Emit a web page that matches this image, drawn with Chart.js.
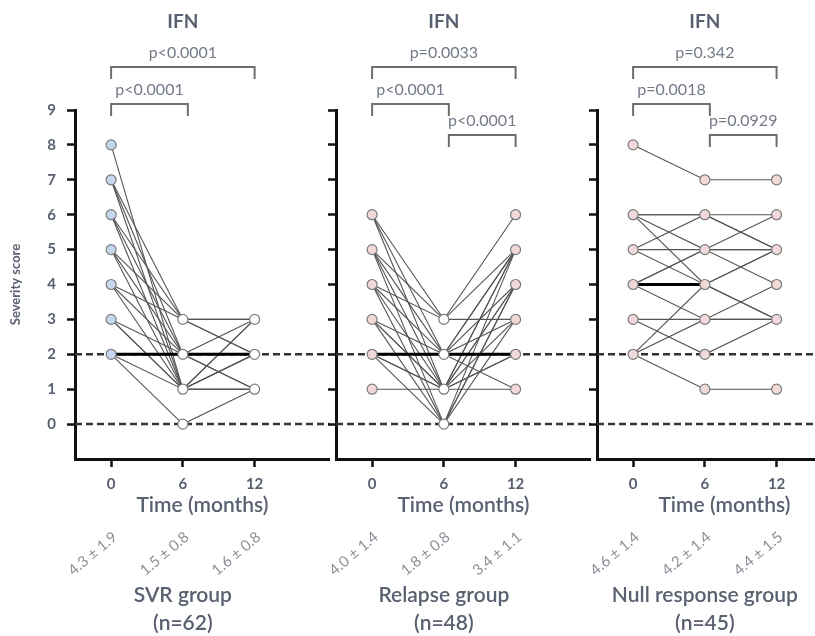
<!DOCTYPE html>
<html>
<head>
<meta charset="utf-8">
<script src="https://cdn.jsdelivr.net/npm/chart.js@4.4.0/dist/chart.umd.min.js"></script>
<style>
  html, body { margin: 0; padding: 0; background: #fff; }
  #wrap { position: relative; width: 815px; height: 636px; overflow: hidden; }
  canvas { position: absolute; top: 0; }
</style>
</head>
<body>
<div id="wrap">
  <canvas id="svr" width="336" height="636" style="left:0px"></canvas>
  <canvas id="relapse" width="273" height="636" style="left:324px"></canvas>
  <canvas id="nullresp" width="273" height="636" style="left:585px"></canvas>
</div>
<script>
/////////////////////////////////////////////////////////////
// DATA

const timePoints = [0, 6, 12];
const severityTicks = [0, 1, 2, 3, 4, 5, 6, 7, 8, 9];
const cutoffValues = [2, 0];

// one row per patient path: score at 0, 6, 12 months
const svrPatients = [
  [8, 1, 1], [7, 1, 2], [7, 2, 2], [7, 3, 3],
  [6, 3, 2], [6, 2, 1], [6, 1, 3],
  [5, 3, 3], [5, 2, 2], [5, 1, 1],
  [4, 3, 2], [4, 2, 3], [4, 1, 2],
  [3, 2, 2], [3, 1, 1], [3, 1, 2],
  [2, 2, 1], [2, 1, 3], [2, 0, 1],
];
const relapsePatients = [
  [6, 3, 6], [6, 2, 5], [6, 1, 4],
  [5, 3, 3], [5, 2, 4], [5, 1, 5], [5, 0, 5],
  [4, 3, 5], [4, 2, 3], [4, 1, 2], [4, 0, 4],
  [3, 2, 5], [3, 1, 3], [3, 0, 3], [3, 1, 4],
  [2, 2, 1], [2, 1, 5], [2, 0, 4], [2, 1, 2],
  [1, 1, 1],
];
const nullPatients = [
  [8, 7, 7],
  [6, 6, 6], [6, 5, 5], [6, 4, 3], [6, 6, 5],
  [5, 6, 5], [5, 5, 4], [5, 4, 5],
  [4, 5, 6], [4, 4, 5], [4, 3, 3], [4, 5, 5],
  [3, 3, 4], [3, 2, 3],
  [2, 4, 3], [2, 3, 3], [2, 1, 1],
];

const svrMedian = [2, 2, 2];
const relapseMedian = [2, 2, 2];
const nullMedian = [4, 4, null];

const svrMeans = ["4.3 ± 1.9", "1.5 ± 0.8", "1.6 ± 0.8"];
const relapseMeans = ["4.0 ± 1.4", "1.8 ± 0.8", "3.4 ± 1.1"];
const nullMeans = ["4.6 ± 1.4", "4.2 ± 1.4", "4.4 ± 1.5"];

// [from month, to month, label]
const svrPValues = [[0, 12, "p<0.0001"], [0, 6, "p<0.0001"]];
const relapsePValues = [[0, 12, "p=0.0033"], [0, 6, "p<0.0001"], [6, 12, "p<0.0001"]];
const nullPValues = [[0, 12, "p=0.342"], [0, 6, "p=0.0018"], [6, 12, "p=0.0929"]];

/////////////////////////////////////////////////////////////
// LAYOUT / STYLE

const X_MIN = -3.02, X_MAX = 18.29;
const Y_MIN = -1, Y_MAX = 9;
const FONT = "Lato, 'Open Sans', sans-serif";
const TEXT_COLOR = "#596070";
const P_COLOR = "#737a88";
const MEAN_COLOR = "#8c8f98";
const BRACKET_Y = [67, 104, 135];
const BLUE = "#c5d7ee";
const PINK = "#f1d9d9";

/////////////////////////////////////////////////////////////
// TEXT + BRACKETS PLUGIN

const panelText = {
  id: "panelText",
  afterDraw(chart, args, opts) {
    const { ctx } = chart;
    const px = (v) => chart.scales.x.getPixelForValue(v);
    ctx.save();
    ctx.textAlign = "center";
    ctx.textBaseline = "middle";

    ctx.fillStyle = TEXT_COLOR;
    ctx.font = `bold 19px ${FONT}`;
    ctx.fillText(opts.title, px(6), 22);

    // significance brackets
    ctx.strokeStyle = "#6e6e6e";
    ctx.lineWidth = 2;
    ctx.font = `16px ${FONT}`;
    opts.pValues.forEach(([from, to, label]) => {
      const level = from === 0 && to === 12 ? 0 : from === 0 ? 1 : 2;
      const y = BRACKET_Y[level];
      const x1 = px(from) + (from === 6 ? 5 : 0);
      const x2 = px(to) + (to === 6 ? 5 : 0);
      ctx.beginPath();
      ctx.moveTo(x1, y + 12);
      ctx.lineTo(x1, y);
      ctx.lineTo(x2, y);
      ctx.lineTo(x2, y + 12);
      ctx.stroke();
      ctx.fillStyle = P_COLOR;
      ctx.fillText(label, level === 0 ? px(6) : (x1 + x2) / 2, y - 14);
    });

    // mean ± SD, rotated
    ctx.fillStyle = MEAN_COLOR;
    ctx.font = `15px ${FONT}`;
    ctx.textAlign = "right";
    opts.means.forEach((m, i) => {
      ctx.save();
      ctx.translate(px(timePoints[i]) + 4, 535);
      ctx.rotate(-40 * Math.PI / 180);
      ctx.fillText(m, 0, 0);
      ctx.restore();
    });

    ctx.textAlign = "center";
    ctx.fillStyle = TEXT_COLOR;
    ctx.font = `600 21px ${FONT}`;
    ctx.fillText(opts.group, px(6), 595);
    ctx.fillText(opts.n, px(6), 623);
    ctx.restore();
  },
};

/////////////////////////////////////////////////////////////
// PANEL BUILDER

const makePanel = function (canvasId, patients, median, fills, text, yAxisWidth, showYLabels) {
  const toXY = (row) => timePoints.map((t, i) => ({ x: t, y: row[i] }));

  // unique markers per time point
  const markers = [];
  const markerFill = [];
  timePoints.forEach((t, i) => {
    const seen = new Set(patients.map((p) => p[i]));
    seen.forEach((v) => {
      markers.push({ x: t, y: v });
      markerFill.push(fills[i]);
    });
  });

  const datasets = [
    {
      data: markers,
      showLine: false,
      pointRadius: 5,
      pointBackgroundColor: markerFill,
      pointBorderColor: "#7b7b7b",
      pointBorderWidth: 1.2,
      order: 0,
    },
    {
      data: toXY(median),
      borderColor: "#000",
      borderWidth: 3,
      pointRadius: 0,
      spanGaps: false,
      order: 1,
    },
    ...cutoffValues.map((c) => ({
      data: [{ x: X_MIN, y: c }, { x: X_MAX, y: c }],
      borderColor: "#333",
      borderWidth: 2.5,
      borderDash: [7, 4],
      pointRadius: 0,
      order: 2,
    })),
    ...patients.map((p) => ({
      data: toXY(p),
      borderColor: "#555",
      borderWidth: 1.1,
      pointRadius: 0,
      order: 3,
    })),
  ];

  const config = {
    type: "line",
    data: { datasets },
    options: {
      responsive: false,
      animation: false,
      layout: { padding: { top: 110, right: 0, left: 0, bottom: 0 } },
      plugins: {
        legend: { display: false },
        tooltip: { enabled: false },
        panelText: text,
      },
      scales: {
        x: {
          type: "linear",
          min: X_MIN,
          max: X_MAX,
          afterBuildTicks: (scale) => {
            scale.ticks = timePoints.map((v) => ({ value: v }));
          },
          afterFit: (scale) => {
            scale.height = 177;
          },
          grid: { drawOnChartArea: false, tickLength: 8, tickWidth: 2.5, tickColor: "#111" },
          border: { color: "#111", width: 3 },
          ticks: {
            padding: 8,
            color: TEXT_COLOR,
            font: { family: FONT, size: 15, weight: "bold" },
          },
          title: {
            display: true,
            text: "Time (months)",
            color: TEXT_COLOR,
            font: { family: FONT, size: 21, weight: "600" },
            padding: { top: 0, bottom: 118 },
          },
        },
        y: {
          min: Y_MIN,
          max: Y_MAX,
          afterBuildTicks: (scale) => {
            scale.ticks = severityTicks.map((v) => ({ value: v }));
          },
          afterFit: (scale) => {
            scale.width = yAxisWidth;
          },
          grid: { drawOnChartArea: false, tickLength: 8, tickWidth: 2.5, tickColor: "#111" },
          border: { color: "#111", width: 3 },
          ticks: {
            display: showYLabels,
            padding: 11,
            color: TEXT_COLOR,
            font: { family: FONT, size: 15, weight: "bold" },
          },
          title: {
            display: showYLabels,
            text: "Severity score",
            color: TEXT_COLOR,
            font: { family: FONT, size: 13, weight: "bold" },
            padding: { top: 8, bottom: 0 },
          },
        },
      },
    },
    plugins: [panelText],
  };

  const ctx = document.getElementById(canvasId).getContext("2d");
  return new Chart(ctx, config);
};

/////////////////////////////////////////////////////////////
// RENDER

makePanel("svr", svrPatients, svrMedian, [BLUE, "#fff", "#fff"],
  { title: "IFN", pValues: svrPValues, means: svrMeans, group: "SVR group", n: "(n=62)" }, 75, true);
makePanel("relapse", relapsePatients, relapseMedian, [PINK, "#fff", PINK],
  { title: "IFN", pValues: relapsePValues, means: relapseMeans, group: "Relapse group", n: "(n=48)" }, 12, false);
makePanel("nullresp", nullPatients, nullMedian, [PINK, PINK, PINK],
  { title: "IFN", pValues: nullPValues, means: nullMeans, group: "Null response group", n: "(n=45)" }, 12, false);
</script>
</body>
</html>
